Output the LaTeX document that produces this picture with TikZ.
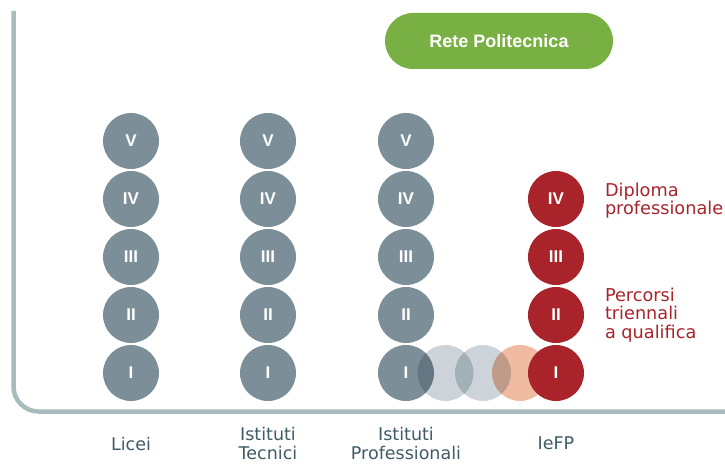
\documentclass[tikz,border=0pt]{standalone}
\usepackage{fontspec}
\setmainfont{DejaVu Sans}
\newfontfamily\numfont{Liberation Sans}
\definecolor{yeargrey}{HTML}{7C8E98}
\definecolor{iefpred}{HTML}{A9232B}
\definecolor{politgreen}{HTML}{78B044}
\definecolor{axisgrey}{HTML}{A8BCBE}
\definecolor{bridgegrey}{HTML}{CDD4D9}
\definecolor{bridgesalmon}{HTML}{F0BBA1}
\definecolor{coltext}{HTML}{3F5B66}
\begin{document}
\begin{tikzpicture}[x=1pt,y=1pt,inner sep=0pt,outer sep=0pt,
year/.style={circle,fill=yeargrey,minimum size=56pt,text=white,font=\numfont\bfseries\fontsize{17}{17}\selectfont},
ieyear/.style={year,fill=iefpred},
bridge/.style={circle,minimum size=56pt},
colname/.style={text=coltext,align=center,anchor=north,font=\fontsize{17.5}{18.3}\selectfont},
note/.style={text=iefpred,align=left,anchor=north west,font=\fontsize{17.7}{18.3}\selectfont}]
\useasboundingbox (0,0) rectangle (725,464);
% axis
\draw[axisgrey,line width=4.5pt,rounded corners=25pt] (13.5,453) |- (730,52.5);
% Licei
\draw (131,91) node[year] (L1) {I};
\draw (131,149) node[year] (L2) {II};
\draw (131,207) node[year] (L3) {III};
\draw (131,265) node[year] (L4) {IV};
\draw (131,323) node[year] (L5) {V};
% Istituti Tecnici
\draw (268,91) node[year] (T1) {I};
\draw (268,149) node[year] (T2) {II};
\draw (268,207) node[year] (T3) {III};
\draw (268,265) node[year] (T4) {IV};
\draw (268,323) node[year] (T5) {V};
% Istituti Professionali
\draw (406,91) node[year] (P1) {I};
\draw (406,149) node[year] (P2) {II};
\draw (406,207) node[year] (P3) {III};
\draw (406,265) node[year] (P4) {IV};
\draw (406,323) node[year] (P5) {V};
% passaggi
\begin{scope}[blend mode=multiply]
\draw (445.5,91) node[bridge,fill=bridgegrey] (bridgeA) {};
\draw (483,91) node[bridge,fill=bridgegrey] (bridgeB) {};
\draw (520,91) node[bridge,fill=bridgesalmon] (bridgeC) {};
\end{scope}
% IeFP
\draw (556,91) node[ieyear] (F1) {I};
\draw (556,149) node[ieyear] (F2) {II};
\draw (556,207) node[ieyear] (F3) {III};
\draw (556,265) node[ieyear] (F4) {IV};
\draw (605,281) node[note] (diploma) {Diploma\\professionale};
\draw (605,176) node[note] (percorsi) {Percorsi\\triennali\\a qualifica};
% Rete Politecnica
\draw (499,423) node[fill=politgreen,rounded corners=28pt,minimum width=228pt,minimum height=56pt,text=white,font=\numfont\bfseries\fontsize{18}{18}\selectfont] (rete) {Rete Politecnica};
% colonne
\draw (131,27) node[colname] (licei) {Licei};
\draw (268,36.3) node[colname] (tecnici) {Istituti\\Tecnici};
\draw (406,36.3) node[colname] (prof) {Istituti\\Professionali};
\draw (556,27) node[colname] (iefp) {IeFP};
\end{tikzpicture}
\end{document}
